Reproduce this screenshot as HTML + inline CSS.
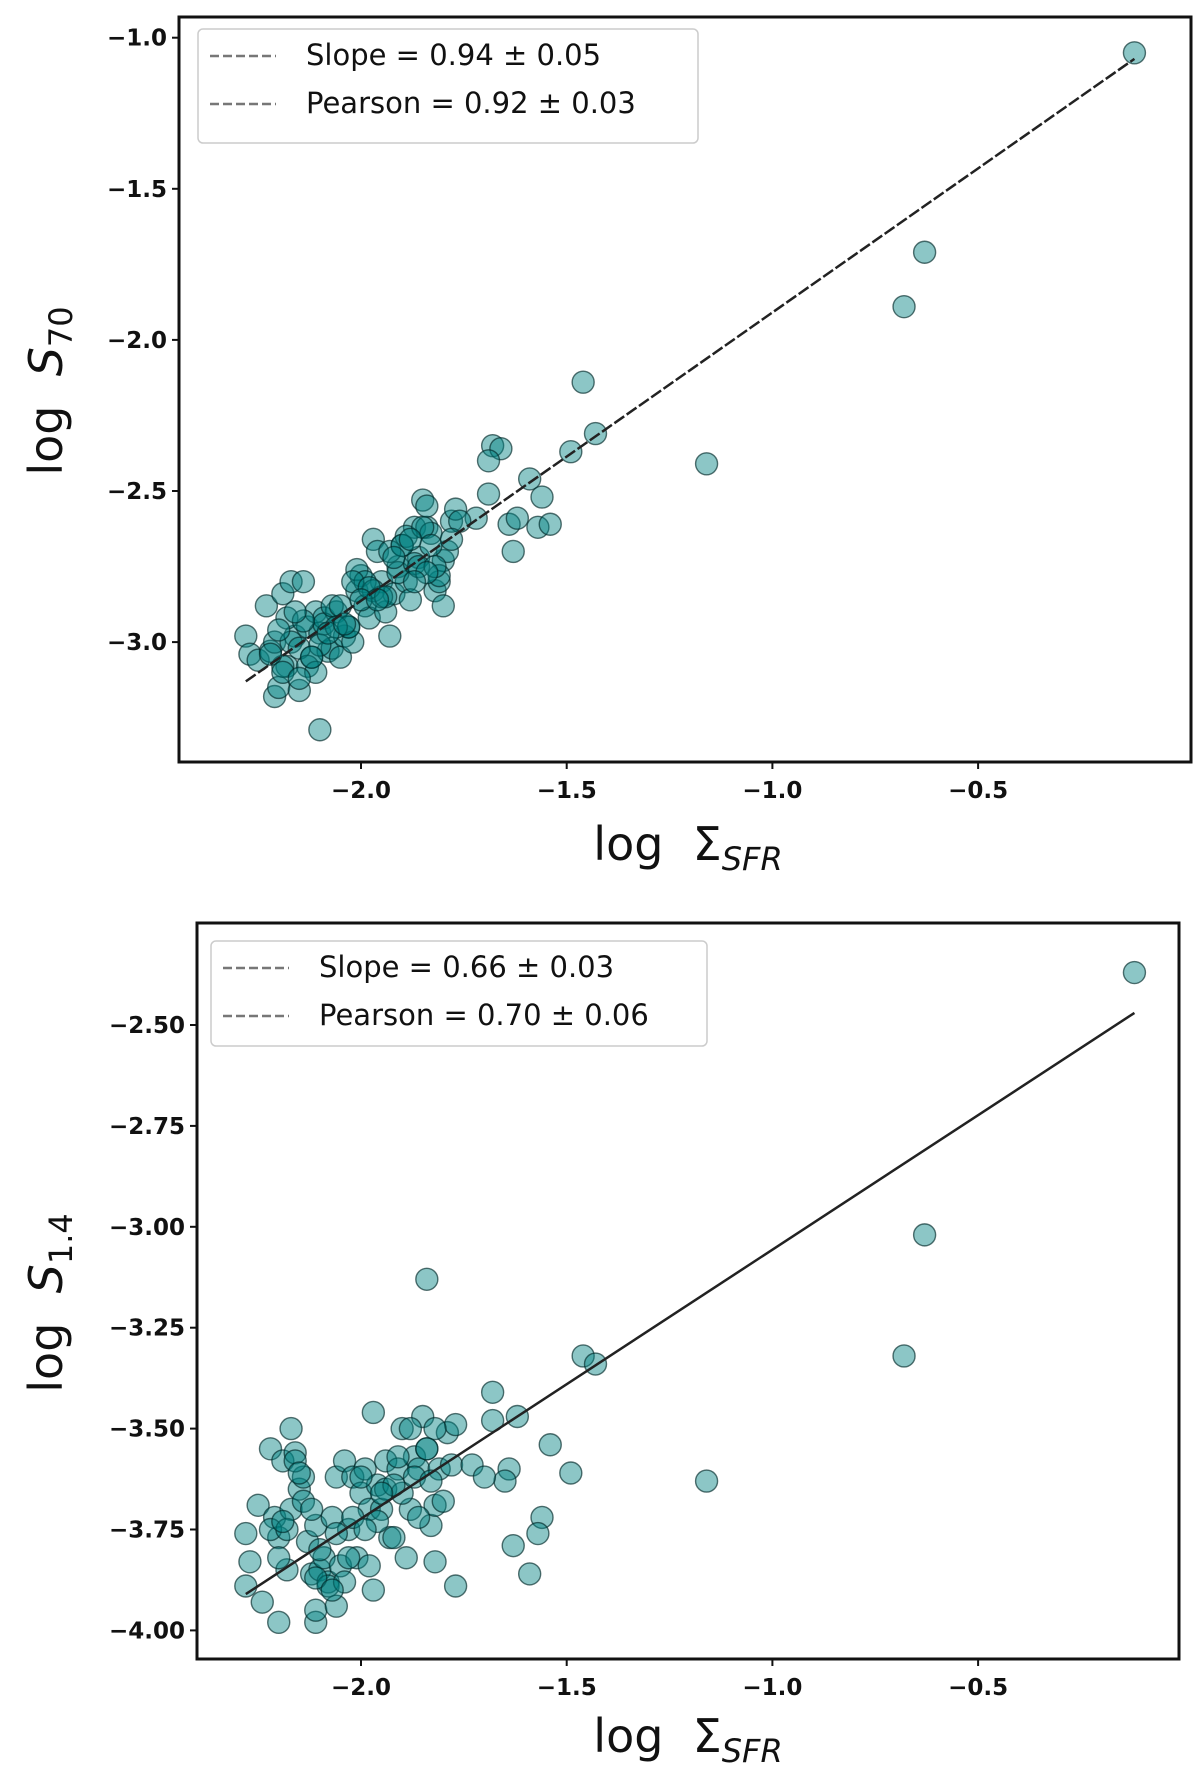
<!DOCTYPE html>
<html><head><meta charset="utf-8">
<style>
html,body{margin:0;padding:0;background:#fff;}
svg{display:block;font-family:"DejaVu Sans","Liberation Sans",sans-serif;}
.tick{font-size:23px;font-weight:bold;fill:#111;}
.lab{font-size:46px;fill:#111;}
.leg{font-size:29px;fill:#111;}
</style></head>
<body>
<svg id="fig" width="1200" height="1791" viewBox="0 0 1200 1791" xmlns="http://www.w3.org/2000/svg"></svg>
<script>
// ---- data: top panel (log S70 vs log SFR)
const topX = [-0.12,-0.63,-0.68,-1.46,-1.43,-1.49,-1.16,-1.68,-1.66,-1.69,-1.59,-1.56,-1.69,-1.72,-1.64,-1.62,-1.57,-1.54,-1.63,-2.10,
 -2.28,-2.27,-2.25,-2.23,-2.22,-2.21,-2.20,-2.19,-2.18,-2.17,-2.16,-2.15,-2.14,-2.13,-2.12,-2.11,-2.10,-2.09,-2.08,-2.07,
 -2.06,-2.05,-2.04,-2.03,-2.02,-2.01,-2.00,-1.99,-1.98,-1.97,-1.96,-1.95,-1.94,-1.93,-1.92,-1.91,-1.90,-1.89,-1.88,-1.87,
 -1.86,-1.85,-1.84,-1.83,-1.82,-1.81,-1.80,-1.79,-1.78,-1.77,-1.76,-2.21,-2.19,-2.17,-2.15,-2.13,-2.11,-2.09,-2.07,-2.05,
 -2.03,-2.01,-1.99,-1.97,-1.95,-1.93,-1.91,-1.89,-1.87,-1.85,-1.83,-1.81,-2.18,-2.14,-2.10,-2.06,-2.02,-1.98,-1.94,-1.90,
 -1.86,-1.82,-1.78,-2.20,-2.16,-2.12,-2.08,-2.04,-2.00,-1.96,-1.92,-1.88,-1.84,-2.22,-2.19,-2.15,-1.80,-1.84,-1.87];
const topY = [-1.05,-1.71,-1.89,-2.14,-2.31,-2.37,-2.41,-2.35,-2.36,-2.40,-2.46,-2.52,-2.51,-2.59,-2.61,-2.59,-2.62,-2.61,-2.70,-3.29,
 -2.98,-3.04,-3.06,-2.88,-3.03,-3.18,-3.15,-2.84,-3.08,-2.80,-2.98,-3.16,-2.80,-2.95,-3.05,-2.90,-2.97,-2.92,-3.03,-3.02,
 -2.90,-3.05,-2.98,-2.95,-3.00,-2.83,-2.78,-2.88,-2.92,-2.66,-2.70,-2.80,-2.90,-2.98,-2.84,-2.75,-2.68,-2.80,-2.86,-2.62,
 -2.72,-2.53,-2.62,-2.64,-2.83,-2.80,-2.73,-2.70,-2.60,-2.56,-2.60,-3.00,-3.08,-3.00,-3.02,-3.08,-3.10,-2.94,-2.88,-2.88,
 -2.95,-2.76,-2.80,-2.83,-2.85,-2.70,-2.77,-2.65,-2.74,-2.62,-2.68,-2.78,-2.92,-2.93,-3.01,-2.95,-2.80,-2.82,-2.85,-2.68,
 -2.75,-2.75,-2.66,-2.96,-2.90,-3.05,-2.97,-2.94,-2.86,-2.86,-2.72,-2.66,-2.55,-3.04,-3.10,-3.12,-2.88,-2.77,-2.80];
// ---- data: bottom panel (log S1.4 vs log SFR)
const botX = [-0.12,-0.63,-0.68,-1.16,-1.46,-1.43,-1.84,-1.49,-1.54,-1.56,-1.57,-1.59,-1.63,-1.64,-1.65,-1.68,-1.68,-1.62,-1.97,-2.17,
 -2.28,-2.27,-2.28,-2.24,-2.20,-2.11,-2.11,-2.06,-1.77,-1.82,-2.25,-2.22,-2.21,-2.20,-2.19,-2.18,-2.17,-2.16,-2.15,-2.14,
 -2.13,-2.12,-2.11,-2.10,-2.09,-2.08,-2.07,-2.06,-2.05,-2.04,-2.03,-2.02,-2.01,-2.00,-1.99,-1.98,-1.97,-1.96,-1.95,-1.94,
 -1.93,-1.92,-1.91,-1.90,-1.89,-1.88,-1.87,-1.86,-1.85,-1.84,-1.83,-1.82,-1.81,-1.80,-1.79,-1.78,-1.77,-1.73,-1.70,-2.22,
 -2.18,-2.14,-2.10,-2.06,-2.02,-1.98,-1.94,-1.90,-1.86,-1.82,-2.20,-2.16,-2.12,-2.08,-2.04,-2.00,-1.96,-1.92,-1.88,-1.84,
 -2.19,-2.15,-2.11,-2.07,-2.03,-1.99,-1.95,-1.91,-1.87,-1.83];
const botY = [-2.37,-3.02,-3.32,-3.63,-3.32,-3.34,-3.13,-3.61,-3.54,-3.72,-3.76,-3.86,-3.79,-3.60,-3.63,-3.41,-3.48,-3.47,-3.46,-3.50,
 -3.76,-3.83,-3.89,-3.93,-3.98,-3.98,-3.95,-3.94,-3.89,-3.83,-3.69,-3.55,-3.72,-3.77,-3.58,-3.85,-3.70,-3.56,-3.65,-3.62,
 -3.78,-3.86,-3.74,-3.85,-3.82,-3.88,-3.72,-3.62,-3.84,-3.58,-3.75,-3.62,-3.82,-3.66,-3.60,-3.70,-3.90,-3.64,-3.70,-3.58,
 -3.77,-3.77,-3.60,-3.50,-3.82,-3.70,-3.57,-3.60,-3.47,-3.55,-3.74,-3.69,-3.60,-3.68,-3.51,-3.59,-3.49,-3.59,-3.62,-3.75,
 -3.75,-3.68,-3.80,-3.76,-3.72,-3.84,-3.65,-3.66,-3.72,-3.50,-3.82,-3.58,-3.70,-3.89,-3.88,-3.62,-3.73,-3.64,-3.50,-3.55,
 -3.73,-3.61,-3.87,-3.90,-3.82,-3.75,-3.66,-3.57,-3.62,-3.63];
const topTicksX=[-2.0,-1.5,-1.0,-0.5], topTicksY=[-1.0,-1.5,-2.0,-2.5,-3.0];
const botTicksX=[-2.0,-1.5,-1.0,-0.5], botTicksY=[-2.50,-2.75,-3.00,-3.25,-3.50,-3.75,-4.00];
const topFit=[[-2.28,-3.13],[-0.12,-1.07]], botFit=[[-2.28,-3.91],[-0.12,-2.47]];

const NS="http://www.w3.org/2000/svg", svg=document.getElementById('fig');
function mk(tag,attrs,parent,text){const e=document.createElementNS(NS,tag);for(const k in attrs)e.setAttribute(k,attrs[k]);if(text!==undefined)e.textContent=text;(parent||svg).appendChild(e);return e;}

function panel(o){
  const g=mk('g',{});
  
  
  const sx=v=>361+(v+2)*411.4;
  const sy=v=>o.y0+(v-o.v0)*o.k;
  o.ty.forEach(t=>{const y=sy(t);
    mk('line',{x1:o.L-7,x2:o.L,y1:y,y2:y,stroke:'#111','stroke-width':2},g);
    const tx=mk('text',{x:o.L-12,y:y+8,'text-anchor':'end',class:'tick'},g,'\u2212'+Math.abs(t).toFixed(o.dec));
    
    
  });
  o.tx.forEach(t=>{const x=sx(t);
    mk('line',{x1:x,x2:x,y1:o.B,y2:o.B+7,stroke:'#111','stroke-width':2},g);
    const tx=mk('text',{x:x,y:o.B+36,'text-anchor':'middle',class:'tick'},g,'\u2212'+Math.abs(t).toFixed(1));
    
    
  });
  o.xs.forEach((x,i)=>{
    const c=mk('circle',{cx:sx(x),cy:sy(o.ys[i]),r:11,fill:'rgba(0,128,128,0.45)',stroke:'rgba(0,40,40,0.65)','stroke-width':1.4},g);
    
    
  });
  const ln=mk('line',{x1:sx(o.fit[0][0]),y1:sy(o.fit[0][1]),x2:sx(o.fit[1][0]),y2:sy(o.fit[1][1]),stroke:'#222','stroke-width':2.5,'stroke-dasharray':o.dash},g);
  
  
  const fr=mk('rect',{x:o.L,y:o.T,width:o.R-o.L,height:o.B-o.T,fill:'none',stroke:'#111','stroke-width':3},g);
  
  
  const lg=mk('g',{},g);
  
  
  mk('rect',{x:o.lx,y:o.ly,width:o.lw,height:o.lh,rx:5,fill:'rgba(255,255,255,0.85)',stroke:'#ccc','stroke-width':1.5},lg);
  o.legTxt.forEach((s,i)=>{const y=o.ly+36+i*48;
    mk('line',{x1:o.lx+12,x2:o.lx+78,y1:y-9,y2:y-9,stroke:'#777','stroke-width':2.5,'stroke-dasharray':'9,4'},lg);
    const t=mk('text',{x:o.lx+108,y:y,class:'leg'},lg,s);
    
    
  });
  const xl=mk('text',{x:688,y:o.xly,'text-anchor':'middle',class:'lab'},g);
  
  
  xl.innerHTML='log \u00a0\u03a3<tspan font-style="italic" font-size="32" dy="10">SFR</tspan>';
  const yl=mk('text',{x:0,y:0,'text-anchor':'middle',class:'lab',transform:`translate(62,${o.yly}) rotate(-90)`},g);
  
  
  yl.innerHTML='log \u00a0<tspan font-style="italic">S</tspan><tspan font-size="32" dy="10">'+o.sub+'</tspan>';
}
panel({name:'top-panel',L:179,R:1191,T:17,B:762,y0:37.7,v0:-1.0,k:-302.2,dec:1,tx:topTicksX,ty:topTicksY,xs:topX,ys:topY,fit:topFit,dash:'12,3',
  lx:198,ly:29,lw:500,lh:114,legTxt:['Slope = 0.94 \u00b1 0.05','Pearson = 0.92 \u00b1 0.03'],xly:860,yly:391,sub:'70'});
panel({name:'bottom-panel',L:197,R:1179,T:923,B:1659,y0:1025,v0:-2.5,k:-403.6,dec:2,tx:botTicksX,ty:botTicksY,xs:botX,ys:botY,fit:botFit,dash:'none',
  lx:211,ly:941,lw:496,lh:105,legTxt:['Slope = 0.66 \u00b1 0.03','Pearson = 0.70 \u00b1 0.06'],xly:1752,yly:1303,sub:'1.4'});
</script>
</body></html>
